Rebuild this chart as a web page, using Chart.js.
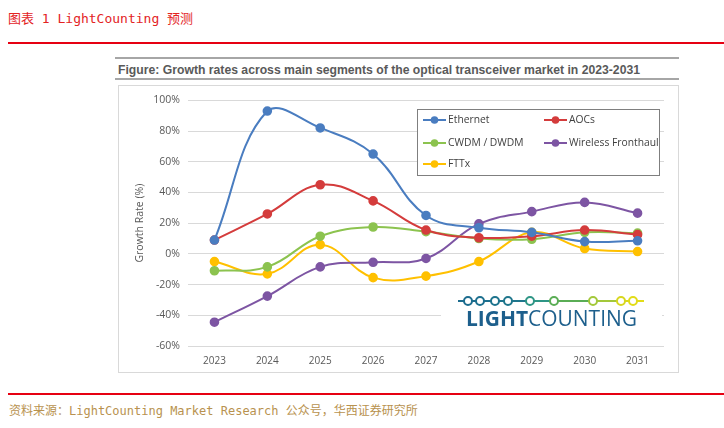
<!DOCTYPE html>
<html>
<head>
<meta charset="utf-8">
<script src="https://cdn.jsdelivr.net/npm/chart.js@4.4.1/dist/chart.umd.min.js"></script>
<style>
  html, body { margin: 0; padding: 0; background: #fff; }
  body { width: 724px; height: 428px; position: relative; overflow: hidden; }
  .cn { font-family: "DejaVu Sans Mono", "Noto Sans CJK SC", monospace; position: absolute; white-space: nowrap; }
  #hdr { left: 8px; top: 8px; font-size: 13px; color: #e3231f; }
  #hdrLine { position: absolute; left: 8px; right: 0; top: 42px; height: 2px; background: #e60012; }
  #ftrLine { position: absolute; left: 8px; right: 0; top: 393px; height: 2px; background: #e60012; }
  #ftr { left: 9px; top: 401px; font-size: 12px; color: #b8924f; }
  #ttlBox { position: absolute; left: 115px; top: 57px; width: 564px; height: 19px;
            border-top: 2px solid #a6a6a6; border-bottom: 2px solid #a6a6a6; }
  #box { position: absolute; left: 118px; top: 85px; width: 559px; height: 286px; border: 1px solid #d9d9d9; }
</style>
</head>
<body>
<div id="hdr" class="cn">图表 1 LightCounting 预测</div>
<div id="hdrLine"></div>
<div id="ttlBox">
  <svg width="564" height="19" style="position:absolute;left:0;top:0">
    <text x="3" y="14.5" textLength="522" lengthAdjust="spacingAndGlyphs"
          font-family="Liberation Sans, Arial, sans-serif" font-weight="bold" font-size="12.5" fill="#595959">Figure: Growth rates across main segments of the optical transceiver market in 2023-2031</text>
  </svg>
</div>
<div id="box"><canvas id="c"></canvas></div>
<div id="ftrLine"></div>
<div id="ftr" class="cn">资料来源：LightCounting Market Research 公众号，华西证券研究所</div>

<script>
// Dados
const anos = ['2023', '2024', '2025', '2026', '2027', '2028', '2029', '2030', '2031'];
const ethernet = [9, 93, 82, 65, 25, 17, 14, 8, 8.5];
const aocs = [9, 26, 45, 34.5, 15.5, 10.5, 11.5, 15.5, 12.5];
const cwdm = [-11, -8.5, 11.5, 17.5, 14.5, 10, 9.5, 14, 13.5];
const fronthaul = [-44.5, -27.5, -8.5, -5.5, -3, 19.5, 27.5, 33.5, 26.5];
const fttx = [-5, -13, 6, -15.5, -14.5, -5, 14, 3.5, 1.5];
const yTicks = [-60, -40, -20, 0, 20, 40, 60, 80, 100];

const serie = (label, data, cor) => ({
    label, data,
    borderColor: cor,
    backgroundColor: cor,
    borderWidth: 2,
    pointRadius: 3.8,
    pointHoverRadius: 3.8,
    tension: 0.4
});

// Legenda e logo desenhados à mão (caixa branca por cima da grade)
const extras = {
    id: 'extras',
    beforeDatasetsDraw(chart) {
        const ctx = chart.ctx;
        ctx.save();

        // logo
        ctx.fillStyle = '#fff';
        ctx.fillRect(322, 200, 221, 48);
        const lx = [349, 361, 376, 389, 411, 435, 474, 502, 514];
        const lc = ['#1c6c8e', '#1c6f8e', '#1d738d', '#1f768c', '#2e9585', '#5aad55', '#a3c83a', '#d8d71e', '#e2dc18'];
        const ly = 215;
        for (let i = 0; i < lx.length - 1; i++) {
            ctx.strokeStyle = lc[i];
            ctx.lineWidth = 2;
            ctx.beginPath();
            ctx.moveTo(lx[i], ly);
            ctx.lineTo(lx[i + 1], ly);
            ctx.stroke();
        }
        ctx.beginPath(); ctx.strokeStyle = lc[0]; ctx.moveTo(339, ly); ctx.lineTo(lx[0], ly); ctx.stroke();
        ctx.beginPath(); ctx.strokeStyle = lc[8]; ctx.moveTo(lx[8], ly); ctx.lineTo(525, ly); ctx.stroke();
        lx.forEach((x, i) => {
            ctx.beginPath();
            ctx.fillStyle = '#fff';
            ctx.strokeStyle = lc[i];
            ctx.lineWidth = 2;
            ctx.arc(x, ly, 4, 0, Math.PI * 2);
            ctx.fill();
            ctx.stroke();
        });
        ctx.fillStyle = '#1d5f8c';
        ctx.textBaseline = 'alphabetic';
        ctx.textAlign = 'left';
        ctx.font = 'bold 22px "Open Sans"';
        const w1 = ctx.measureText('LIGHT').width;
        ctx.font = '22px "Open Sans"';
        const w2 = ctx.measureText('COUNTING').width;
        const sx = 171 / (w1 + w2);
        ctx.translate(347, 240);
        ctx.scale(sx, 1);
        ctx.font = 'bold 22px "Open Sans"';
        ctx.fillText('LIGHT', 0, 0);
        ctx.font = '22px "Open Sans"';
        ctx.fillText('COUNTING', w1, 0);
        ctx.restore();

        // legenda
        ctx.save();
        ctx.fillStyle = '#fff';
        ctx.fillRect(298, 23, 243, 67);
        ctx.strokeStyle = '#7f7f7f';
        ctx.lineWidth = 1;
        ctx.strokeRect(298.5, 23.5, 242, 66);
        const pos = [[304, 34], [425, 34], [304, 57], [425, 57], [304, 78]];
        ctx.font = '10.3px "Open Sans"';
        ctx.textBaseline = 'middle';
        chart.data.datasets.forEach((ds, i) => {
            const [x, y] = pos[i];
            ctx.strokeStyle = ds.borderColor;
            ctx.lineWidth = 2;
            ctx.beginPath();
            ctx.moveTo(x, y);
            ctx.lineTo(x + 23, y);
            ctx.stroke();
            ctx.beginPath();
            ctx.fillStyle = ds.borderColor;
            ctx.arc(x + 11.5, y, 3.8, 0, Math.PI * 2);
            ctx.fill();
            ctx.fillStyle = '#404040';
            ctx.fillText(ds.label, x + 25, y);
        });
        ctx.restore();
    }
};

const ctx = document.getElementById('c').getContext('2d');
new Chart(ctx, {
    type: 'line',
    data: {
        labels: anos,
        datasets: [
            serie('Ethernet', ethernet, '#4a7dc0'),
            serie('AOCs', aocs, '#d43c3c'),
            serie('CWDM / DWDM', cwdm, '#8cc34f'),
            serie('Wireless Fronthaul', fronthaul, '#7d55a3'),
            serie('FTTx', fttx, '#ffc000')
        ]
    },
    options: {
        responsive: true,
        maintainAspectRatio: false,
        animation: false,
        layout: { padding: { left: 0, right: 14, top: 14, bottom: 0 } },
        plugins: {
            legend: { display: false },
            tooltip: { enabled: false }
        },
        scales: {
            x: {
                offset: true,
                grid: { display: false, drawTicks: false },
                border: { display: false },
                ticks: { color: '#595959', font: { family: 'Open Sans', size: 10 }, padding: 9 },
                afterFit: (s) => { s.height = 26; }
            },
            y: {
                min: -60,
                max: 100,
                afterBuildTicks: (s) => { s.ticks = yTicks.map(v => ({ value: v })); },
                grid: { color: '#d9d9d9', lineWidth: 1, drawTicks: false },
                border: { display: false },
                ticks: {
                    color: '#595959',
                    font: { family: 'Open Sans', size: 10.5 },
                    padding: 8,
                    callback: (v) => v + '%'
                },
                title: {
                    display: true,
                    text: 'Growth Rate (%)',
                    color: '#595959',
                    font: { family: 'Open Sans', size: 10.5 },
                    padding: { top: 15, bottom: 0 }
                },
                afterFit: (s) => { s.width = 69; }
            }
        }
    },
    plugins: [extras]
});
</script>
</body>
</html>
